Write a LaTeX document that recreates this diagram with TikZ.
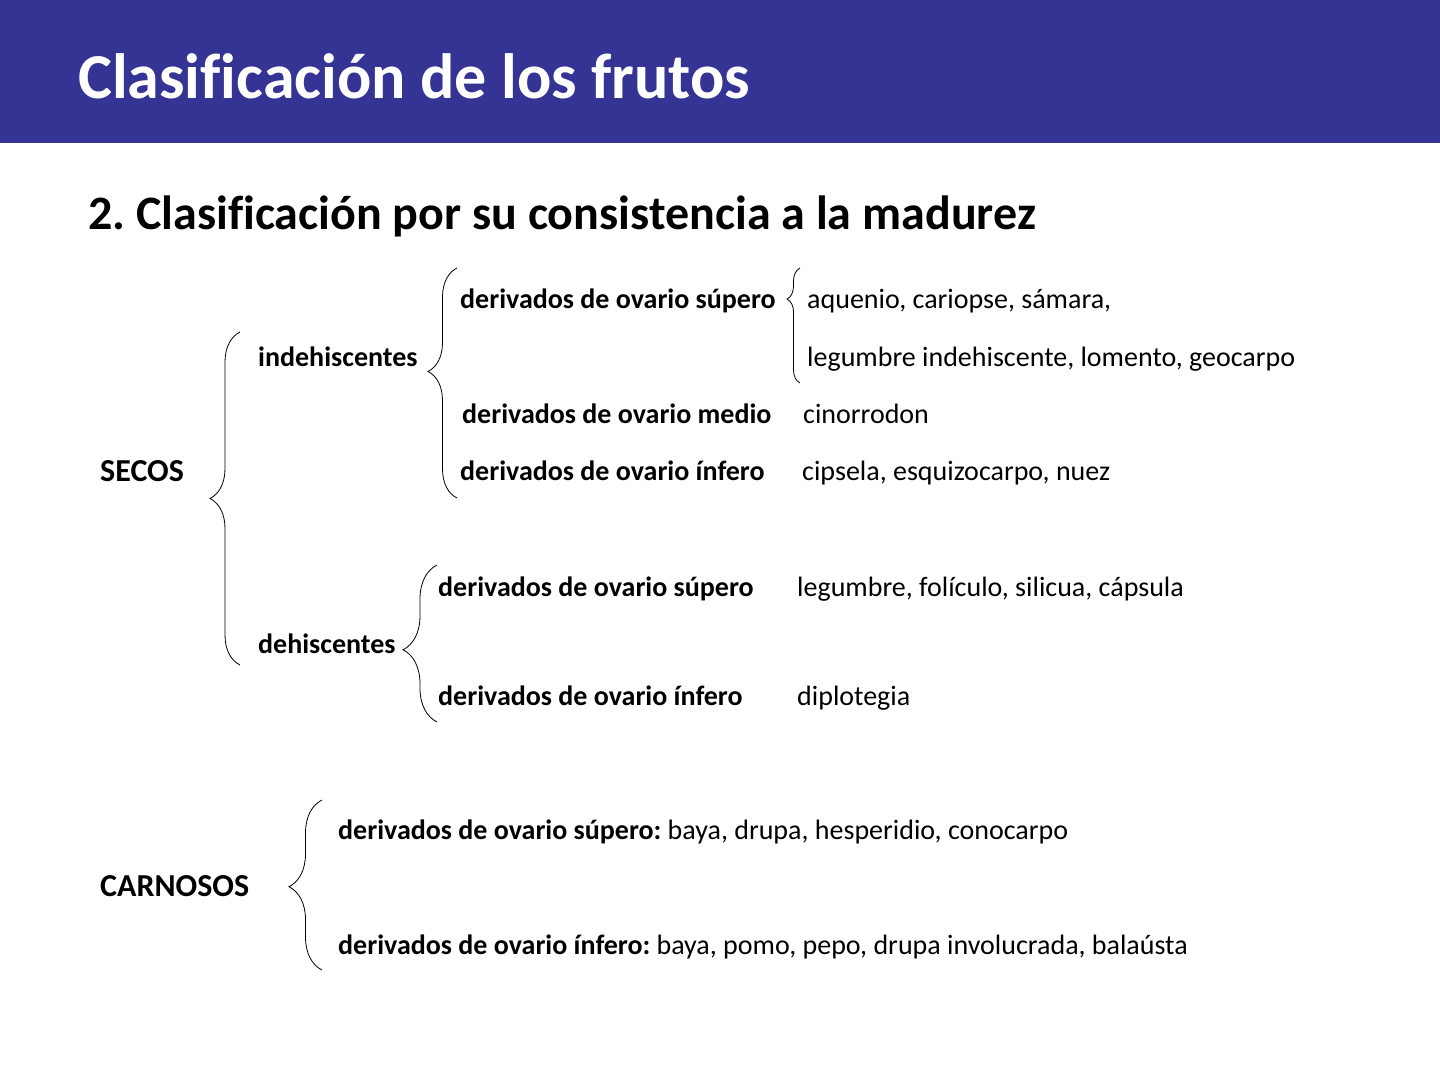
\documentclass[tikz,border=0pt]{standalone}
\usepackage{fontspec}
\setmainfont[Ligatures=NoCommon]{Carlito}
\usetikzlibrary{decorations.pathreplacing}
\definecolor{hdr}{RGB}{53,51,148}
\begin{document}
\frenchspacing
\begin{tikzpicture}[x=1pt,y=-1pt,
  txt/.style={anchor=base west,inner sep=0pt,font=\fontsize{28}{32}\selectfont},
  btxt/.style={txt,font=\fontsize{28}{32}\selectfont\bfseries},
  big/.style={txt,font=\fontsize{32}{36}\selectfont\bfseries},
  brc/.style={decorate,line width=0.8pt,decoration={brace,amplitude=#1}}]
\useasboundingbox (0,0) rectangle (1440,1080);
\fill[hdr] (0,0) rectangle (1440,143);
\node[anchor=base west,inner sep=0pt,text=white,font=\fontsize{64}{70}\selectfont\bfseries] (title) at (78,98) {Clasificación de los frutos};
\node[anchor=base west,inner sep=0pt,font=\fontsize{48}{52}\selectfont\bfseries] (sub) at (88,229) {2. Clasificación por su consistencia a la madurez};

\node[big] (secos) at (100,481) {SECOS};
\node[btxt] (ind) at (258,366) {indehiscentes};
\node[btxt] (deh) at (258,653) {dehiscentes};
\node[btxt] (isup) at (460,308) {derivados de ovario súpero};
\node[btxt] (imed) at (462,423) {derivados de ovario medio};
\node[btxt] (iinf) at (460,480) {derivados de ovario ínfero};
\node[txt] (aq) at (807,308) {aquenio, cariopse, sámara,};
\node[txt] (leg) at (807,366) {legumbre indehiscente, lomento, geocarpo};
\node[txt] (cin) at (803,423) {cinorrodon};
\node[txt] (cip) at (802,480) {cipsela, esquizocarpo, nuez};
\node[btxt] (dsup) at (438,596) {derivados de ovario súpero};
\node[btxt] (dinf) at (438,705) {derivados de ovario ínfero};
\node[txt] (dleg) at (797,596) {legumbre, folículo, silicua, cápsula};
\node[txt] (dip) at (797,705) {diplotegia};

\node[big] (carn) at (100,896) {CARNOSOS};
\node[txt] (csup) at (338,839) {\textbf{derivados de ovario súpero:} baya, drupa, hesperidio, conocarpo};
\node[txt] (cinf) at (338,954) {\textbf{derivados de ovario ínfero:} baya, pomo, pepo, drupa involucrada, balaústa};

\coordinate (b1a) at (240,665); \coordinate (b1b) at (240,332);
\coordinate (b2a) at (457,498); \coordinate (b2b) at (457,268);
\coordinate (b3a) at (800,383); \coordinate (b3b) at (800,268);
\coordinate (b4a) at (437,722); \coordinate (b4b) at (437,565);
\coordinate (b5a) at (322,970); \coordinate (b5b) at (322,800);
\draw[brc=30pt,decoration={aspect=0.5}] (b1a) -- (b1b);
\draw[brc=29pt,decoration={aspect=0.55}] (b2a) -- (b2b);
\draw[brc=13pt,decoration={aspect=0.73}] (b3a) -- (b3b);
\draw[brc=34pt,decoration={aspect=0.46}] (b4a) -- (b4b);
\draw[brc=33pt,decoration={aspect=0.49}] (b5a) -- (b5b);
\end{tikzpicture}
\end{document}
